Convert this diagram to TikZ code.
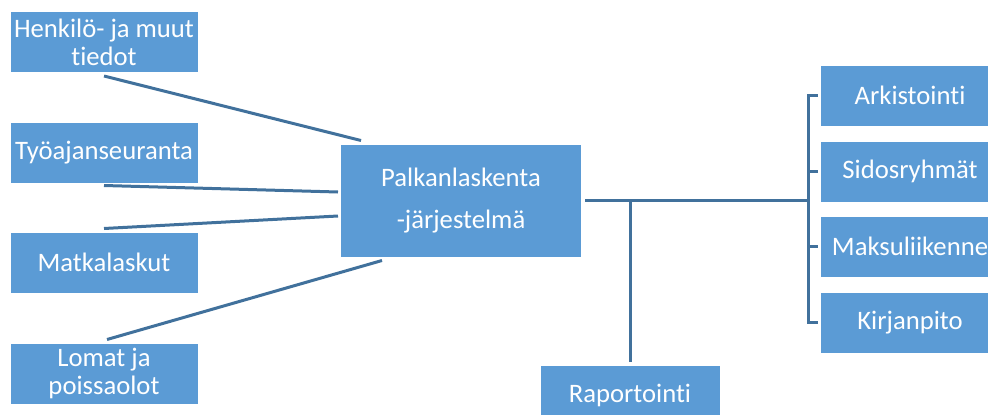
\documentclass[tikz,border=0pt]{standalone}
\usepackage{fontspec}
\setmainfont{Carlito}[RawFeature={-liga;-clig;-calt;-dlig}]
\usetikzlibrary{calc}
\definecolor{boxblue}{HTML}{5B9BD5}
\definecolor{linkblue}{HTML}{41719C}
\begin{document}
\begin{tikzpicture}[x=0.75pt,y=-0.75pt]
	\tikzstyle{box}=[draw=white, line width=0.75pt, fill=boxblue, text=white, align=center, inner sep=0pt]
	\tikzstyle{leftbox}=[box, minimum width=141pt, minimum height=45.75pt, font=\fontsize{20}{21}\selectfont]
	\tikzstyle{rightbox}=[box, minimum width=135pt, minimum height=45.75pt, font=\fontsize{20}{21}\selectfont]
	\tikzstyle{link}=[draw=linkblue, line width=2.25pt]
	\clip (0,0) rectangle (988,414);
	% tietolahteet
	\node [leftbox] (henkilo) at (104,42) {Henkilö- ja muut\\tiedot};
	\node [leftbox] (tyoaika) at (104,152.5) {Työajanseuranta};
	\node [leftbox] (matka) at (104,262.5) {Matkalaskut};
	\node [leftbox] (lomat) at (104,373.5) {Lomat ja\\poissaolot};
	% keskus
	\node [box, minimum width=180.75pt, minimum height=84.75pt, font=\fontsize{20}{31.5}\selectfont] (palkka) at (461,200.5) {Palkanlaskenta\\-järjestelmä};
	% kohteet
	\node [rightbox] (arkisto) at (910,95.5) {Arkistointi};
	\node [rightbox] (sidos) at (910,171.5) {Sidosryhmät};
	\node [rightbox] (maksu) at (910,246.5) {Maksuliikenne};
	\node [rightbox] (kirjan) at (910,322.5) {Kirjanpito};
	\node [rightbox] (raport) at (630,395.5) {Raportointi};
	% viivat
	\draw [link] ($(henkilo.south)+(0,3)$) -- ($(palkka.north west)+(21,-3)$);
	\draw [link] ($(tyoaika.south)+(0,2)$) -- ($(palkka.west)+(-2,-8.5)$);
	\draw [link] ($(matka.north)+(0,-3)$) -- ($(palkka.west)+(-2,15.5)$);
	\draw [link] ($(lomat.north)+(3,-3)$) -- ($(palkka.south west)+(42,3)$);
	\coordinate (haara) at ($(palkka.east -| arkisto.west)+(-11,0)$);
	\draw [link] ($(palkka.east)+(3,0)$) -- (haara);
	\draw [link] ($(raport.north)+(0,-3)$) -- (raport.north |- palkka.east);
	\draw [link] ($(arkisto.west)+(-2,0)$) -- ++(-9,0) -- ($(kirjan.west)+(-11,0)$) -- ++(9,0);
	\foreach \n in {sidos,maksu}
		\draw [link] ($(\n.west)+(-2,0)$) -- ++(-9,0);
\end{tikzpicture}
\end{document}
